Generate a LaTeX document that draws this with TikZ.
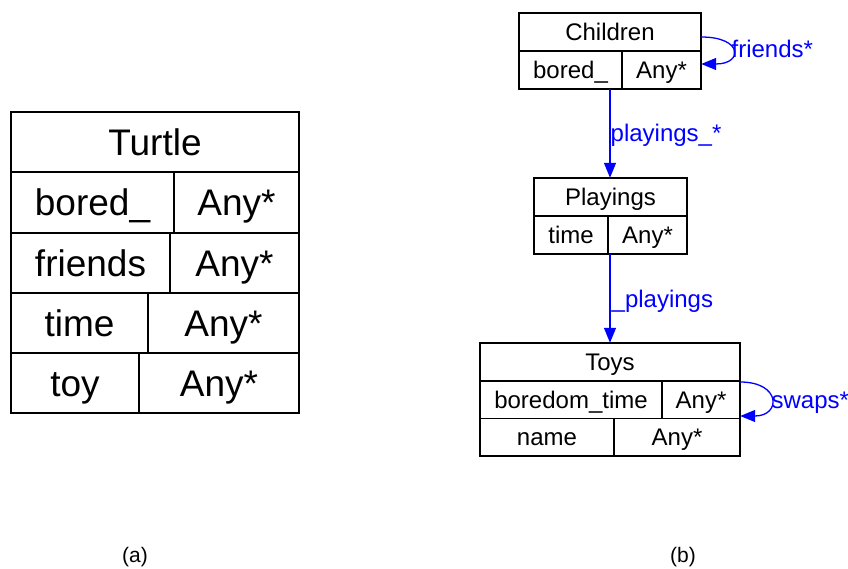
\documentclass[tikz,border=0pt]{standalone}
\usepackage{fontspec}
\setmainfont{Liberation Sans}
\usetikzlibrary{arrows.meta}
\definecolor{edgeblue}{RGB}{0,0,255}
% one field cell of a record table, given by its corners (x1,y1) and (x2,y2)
\newcommand\tabcell[6]{%
  \node[cell, minimum width={(#4-#2)*1pt}, minimum height={(#5-#3)*1pt}]
    (#1) at ({(#2+#4)/2},{(#3+#5)/2}) {#6};}
\begin{document}
\begin{tikzpicture}[x=1pt,y=-1pt,
  cell/.style={draw, line width=1.2pt, inner sep=0pt, text depth=0pt},
  frame/.style={inner sep=0pt},
  bigtext/.style={font=\fontsize{37}{44}\selectfont, text height=26.5pt},
  smalltext/.style={font=\fontsize{24}{29}\selectfont, text height=17.2pt},
  edge/.style={draw=edgeblue, line width=1.3pt, -{Triangle[length=15pt,width=12pt]}},
  lbl/.style={text=edgeblue, inner sep=0pt, font=\fontsize{24}{29}\selectfont, text height=17.2pt, text depth=0pt},
  caption/.style={font=\fontsize{21}{25}\selectfont}]
\useasboundingbox (0,0) rectangle (848,569);

% (a) the single Turtle table
\begin{scope}[bigtext]
\tabcell{turtle}{11}{112}{299}{172}{Turtle}
\tabcell{tboredk}{11}{172}{174}{233}{bored\_}
\tabcell{tboredv}{174}{172}{299}{233}{Any*}
\tabcell{tfriendsk}{11}{233}{170}{293}{friends}
\tabcell{tfriendsv}{170}{233}{299}{293}{Any*}
\tabcell{ttimek}{11}{293}{148}{353}{time}
\tabcell{ttimev}{148}{293}{299}{353}{Any*}
\tabcell{ttoyk}{11}{353}{139}{413}{toy}
\tabcell{ttoyv}{139}{353}{299}{413}{Any*}
\end{scope}

% (b) Children, Playings and Toys tables
\begin{scope}[smalltext]
\tabcell{childrenh}{519}{13}{701}{51}{Children}
\tabcell{cboredk}{519}{51}{622}{89}{bored\_}
\tabcell{cboredv}{622}{51}{701}{89}{Any*}
\tabcell{playingsh}{534}{178}{687}{216}{Playings}
\tabcell{ptimek}{534}{216}{608}{254}{time}
\tabcell{ptimev}{608}{216}{687}{254}{Any*}
\tabcell{toysh}{480}{343}{740}{381}{Toys}
\tabcell{tbtk}{480}{381}{662}{418.5}{boredom\_time}
\tabcell{tbtv}{662}{381}{740}{418.5}{Any*}
\tabcell{tnamek}{480}{418.5}{614}{456}{name}
\tabcell{tnamev}{614}{418.5}{740}{456}{Any*}
\end{scope}

% outlines of whole tables, used as connector ends
\node[frame, minimum width=182pt, minimum height=76pt] (children) at (610,51) {};
\node[frame, minimum width=153pt, minimum height=76pt] (playings) at (610.5,216) {};
\node[frame, minimum width=260pt, minimum height=113pt] (toys) at (610,399.5) {};

% relations
\draw[edge] (children.south) -- node[lbl, anchor=west, pos=0.49] {playings\_*} (children.south |- playings.north);
\draw[edge] (playings.south -| children.south) -- node[lbl, anchor=west, xshift=1pt] {\_playings} (toys.north);
\draw[edge] ([yshift=14pt]children.east) .. controls +(42pt,0pt) and +(42pt,0pt) .. ([yshift=-13pt]children.east)
  node[lbl, anchor=west] at (731,49) {friends*};
\draw[edge] ([yshift=17.5pt]toys.east) .. controls +(41pt,0pt) and +(41pt,0pt) .. ([yshift=-16.5pt]toys.east)
  node[lbl, anchor=west] at (771,400) {swaps*};

% captions
\node[caption] (capa) at (135,557) {(a)};
\node[caption] (capb) at (683,557) {(b)};
\end{tikzpicture}
\end{document}
